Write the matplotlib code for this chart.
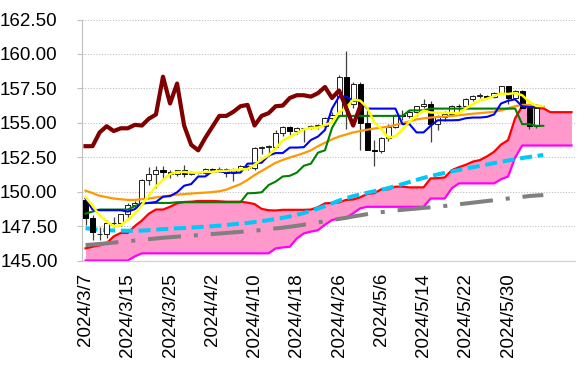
import matplotlib
matplotlib.use("Agg")
import matplotlib.pyplot as plt
import numpy as np

# ---------------- data ----------------
tick_labels = ['2024/3/7', '2024/3/15', '2024/3/25', '2024/4/2', '2024/4/10', '2024/4/18',
               '2024/4/26', '2024/5/6', '2024/5/14', '2024/5/22', '2024/5/30']

opens = [149.40, 148.05, 146.90, 146.95, 147.70, 147.75, 148.35, 149.05, 149.15, 150.85,
         151.25, 151.60, 151.45, 151.30, 151.55, 151.30, 151.35, 151.35, 151.65, 151.55,
         151.65, 151.35, 151.65, 151.85, 151.75, 153.15, 153.25, 153.25, 154.25, 154.70,
         154.40, 154.60, 154.65, 154.80, 154.80, 155.35, 155.60, 158.30, 156.35, 157.80,
         155.00, 153.05, 152.95, 153.90, 154.70, 155.55, 155.50, 155.75, 156.20, 156.40,
         154.90, 155.40, 155.65, 156.25, 156.20, 156.75, 156.95, 156.95, 156.90, 157.15,
         157.65, 156.80, 157.30, 156.10, 154.80]
highs = [149.50, 148.30, 147.40, 147.95, 148.15, 148.40, 149.15, 149.30, 150.95, 151.80,
         151.85, 151.85, 151.55, 151.60, 151.95, 151.50, 151.45, 151.75, 151.75, 151.80,
         151.70, 151.75, 151.95, 151.95, 153.25, 153.30, 153.40, 154.45, 154.80, 154.75,
         154.70, 154.65, 154.85, 154.90, 155.40, 155.75, 158.45, 160.20, 157.95, 157.95,
         155.95, 153.75, 154.00, 154.90, 155.65, 155.95, 155.95, 156.25, 156.75, 156.55,
         155.60, 155.85, 156.30, 156.40, 156.80, 157.05, 157.15, 157.00, 157.25, 157.70,
         157.70, 157.35, 157.35, 156.20, 156.40]
lows = [147.60, 146.50, 146.50, 146.65, 147.40, 147.50, 147.95, 148.90, 149.15, 150.50,
        150.25, 151.00, 151.00, 151.15, 151.05, 151.20, 151.25, 151.25, 151.40, 151.45,
        151.05, 150.80, 151.60, 151.60, 151.60, 152.75, 152.60, 153.20, 154.05, 154.10,
        154.20, 153.60, 154.55, 154.55, 154.70, 155.10, 155.40, 154.55, 156.05, 153.00,
        153.05, 151.85, 152.80, 153.70, 154.60, 155.20, 155.35, 155.50, 156.05, 153.60,
        154.50, 155.10, 155.55, 155.80, 156.10, 156.55, 156.80, 156.70, 156.80, 157.10,
        156.40, 156.70, 156.10, 154.55, 154.60]
closes = [148.05, 147.05, 146.95, 147.70, 147.75, 148.35, 149.05, 149.15, 150.85, 151.25,
          151.60, 151.40, 151.30, 151.55, 151.30, 151.35, 151.35, 151.65, 151.55, 151.65,
          151.35, 151.65, 151.85, 151.75, 153.15, 153.25, 153.25, 154.25, 154.70, 154.40,
          154.60, 154.65, 154.80, 154.80, 155.35, 155.60, 158.30, 156.35, 157.80, 155.00,
          153.05, 152.95, 153.90, 154.70, 155.55, 155.50, 155.75, 156.20, 156.40, 154.90,
          155.40, 155.65, 156.25, 156.20, 156.75, 156.95, 156.95, 156.90, 157.15, 157.65,
          156.80, 157.30, 156.10, 154.80, 156.10]

tenkan = [149.5, 148.7, 148.65, 148.65, 148.65, 148.65, 148.55, 148.73, 149.15, 149.18,
          149.25, 149.63, 149.68, 149.95, 150.43, 150.55, 151.10, 151.10, 151.48, 151.48,
          151.38, 151.38, 151.38, 152.03, 152.05, 152.10, 152.63, 152.80, 152.80, 153.20,
          153.20, 153.23, 153.75, 154.00, 154.48, 156.03, 156.90, 156.90, 156.60, 156.60,
          156.03, 156.03, 156.03, 156.03, 156.03, 154.90, 154.90, 154.30, 154.30, 154.78,
          155.18, 155.18, 155.18, 155.20, 155.33, 155.38, 155.38, 155.43, 155.60, 156.40,
          156.60, 156.70, 156.20, 156.15, 156.15, 156.15]
kijun = [148.4, 148.55, 148.7, 148.7, 148.7, 148.7, 148.7, 148.95, 149.15, 149.18,
         149.18, 149.18, 149.18, 149.23, 149.23, 149.23, 149.23, 149.23, 149.23, 149.23,
         149.23, 149.23, 149.23, 149.88, 149.90, 149.95, 150.48, 150.73, 151.10, 151.15,
         151.38, 151.88, 152.03, 152.83, 153.00, 154.63, 155.50, 155.50, 155.50, 155.50,
         155.50, 155.50, 155.50, 155.50, 155.50, 155.50, 155.90, 155.90, 155.90, 156.03,
         156.03, 156.03, 156.03, 156.03, 156.03, 156.03, 156.03, 156.03, 156.03, 156.03,
         156.03, 156.03, 154.90, 154.90, 154.78, 154.78]
senkou_a = [145.88, 146.0, 146.1, 146.25, 146.75, 147.0, 147.0, 147.5, 147.9, 148.4,
            148.7, 148.7, 148.9, 149.15, 149.25, 149.27, 149.32, 149.32, 149.32, 149.3,
            149.27, 149.27, 149.27, 149.2, 149.1, 148.75, 148.65, 148.63, 148.68, 148.68,
            148.68, 148.68, 148.7, 148.87, 149.15, 149.18, 149.22, 149.4, 149.43, 149.59,
            149.83, 149.89, 150.17, 150.17, 150.36, 150.36, 150.31, 150.31, 150.31, 150.96,
            150.98, 151.03, 151.56, 151.77, 151.95, 152.18, 152.29, 152.56, 152.89, 153.42,
            153.74, 155.33, 156.2, 156.2, 156.05, 156.05, 155.77, 155.77, 155.77, 155.77]
senkou_b = [145.0, 145.0, 145.0, 145.0, 145.0, 145.0, 145.0, 145.3, 145.52, 145.52,
            145.52, 145.52, 145.52, 145.52, 145.52, 145.52, 145.52, 145.52, 145.52, 145.52,
            145.52, 145.52, 145.52, 145.52, 145.52, 145.52, 145.52, 145.88, 145.95, 146.0,
            146.6, 146.97, 147.1, 147.2, 147.6, 147.94, 148.06, 148.1, 148.43, 148.79,
            148.9, 148.9, 148.9, 148.9, 148.9, 148.9, 148.9, 148.9, 148.9, 149.5,
            149.5, 149.5, 150.24, 150.6, 150.6, 150.6, 150.6, 150.6, 150.6, 150.9,
            151.1, 152.48, 153.35, 153.35, 153.35, 153.35, 153.35, 153.35, 153.35, 153.35]
chikou = [153.3, 153.3, 154.3, 154.75, 154.4, 154.6, 154.6, 154.85, 154.8, 155.3,
          155.6, 158.35, 156.4, 157.85, 154.8, 153.4, 153.0, 153.9, 154.7, 155.5,
          155.5, 155.8, 156.2, 156.3, 154.8, 155.5, 155.7, 156.2, 156.25, 156.8,
          157.0, 157.0, 156.9, 157.15, 157.6, 156.8, 157.35, 156.1, 154.8, 156.2]
ma5 = [149.6, 148.98, 148.27, 147.83, 147.5, 147.56, 147.96, 148.4, 149.03, 149.73,
       150.38, 150.85, 151.28, 151.42, 151.43, 151.38, 151.37, 151.44, 151.44, 151.51,
       151.51, 151.57, 151.61, 151.65, 151.95, 152.33, 152.65, 153.13, 153.72, 153.97,
       154.24, 154.52, 154.63, 154.65, 154.84, 155.04, 155.77, 156.08, 156.68, 156.61,
       156.1, 155.03, 154.54, 153.92, 154.03, 154.52, 155.08, 155.54, 155.88, 155.75,
       155.73, 155.71, 155.72, 155.68, 156.05, 156.36, 156.62, 156.75, 156.94, 157.12,
       157.09, 157.16, 157.0, 156.53, 156.22, 156.2]
ma25 = [150.07, 149.9, 149.7, 149.6, 149.5, 149.45, 149.4, 149.4, 149.45, 149.5,
        149.58, 149.65, 149.72, 149.78, 149.82, 149.86, 149.9, 149.93, 149.97, 150.03,
        150.15, 150.35, 150.55, 150.85, 151.2, 151.5, 151.8, 152.1, 152.3, 152.48,
        152.63, 152.8, 153.0, 153.3, 153.55, 153.8, 154.0, 154.15, 154.3, 154.4,
        154.5, 154.58, 154.65, 154.72, 154.85, 154.98, 155.1, 155.25, 155.32, 155.38,
        155.42, 155.45, 155.5, 155.55, 155.6, 155.66, 155.7, 155.75, 155.8, 155.9,
        156.05, 156.2, 156.3, 156.3, 156.25, 156.2]
ma75 = [147.35, 147.28, 147.22, 147.2, 147.18, 147.17, 147.16, 147.16, 147.17, 147.2,
        147.24, 147.28, 147.31, 147.34, 147.36, 147.39, 147.42, 147.45, 147.49, 147.53,
        147.58, 147.63, 147.68, 147.73, 147.79, 147.86, 147.93, 148.01, 148.1, 148.2,
        148.32, 148.45, 148.6, 148.77, 148.95, 149.15, 149.35, 149.52, 149.67, 149.8,
        149.92, 150.03, 150.14, 150.26, 150.4, 150.55, 150.7, 150.85, 151.0, 151.13,
        151.25, 151.36, 151.47, 151.57, 151.67, 151.77, 151.87, 151.97, 152.07, 152.17,
        152.26, 152.35, 152.44, 152.52, 152.59, 152.66]
ma200 = [146.12, 146.16, 146.2, 146.25, 146.3, 146.35, 146.4, 146.45, 146.5, 146.55,
         146.6, 146.65, 146.69, 146.73, 146.77, 146.8, 146.84, 146.88, 146.92, 146.96,
         147.0, 147.04, 147.08, 147.12, 147.16, 147.22, 147.28, 147.33, 147.38, 147.45,
         147.52, 147.6, 147.68, 147.77, 147.85, 147.94, 148.02, 148.1, 148.2, 148.28,
         148.37, 148.45, 148.51, 148.57, 148.63, 148.68, 148.73, 148.77, 148.82, 148.86,
         148.9, 148.96, 149.02, 149.08, 149.14, 149.2, 149.26, 149.32, 149.38, 149.44,
         149.5, 149.56, 149.62, 149.68, 149.72, 149.75]

# ---------------- figure ----------------
plt.rcParams['font.family'] = ['Liberation Sans', 'DejaVu Sans']
W, H = 585, 384
fig = plt.figure(figsize=(W / 100, H / 100), dpi=100)
ax = fig.add_axes([82 / W, 1 - 260.5 / H, (575 - 82) / W, (260.5 - 19.5) / H])

n_cat = len(senkou_a)
xa = np.arange(len(senkou_a))
xb = np.arange(len(senkou_b))

# cloud
ax.fill_between(xa, senkou_a, senkou_b, color='#FF99CC', lw=0, zorder=1)
ax.plot(xa, senkou_a, color='#FF0000', lw=1.6, zorder=2)
ax.plot(xb, senkou_b, color='#FF00FF', lw=1.6, zorder=2)

# long moving averages
ax.plot(np.arange(len(ma200)), ma200, color='#808080', lw=2.9, zorder=3,
        dashes=(8.2, 3.2, 1.0, 3.2), dash_capstyle='butt')
ax.plot(np.arange(len(ma75)), ma75, color='#00C8F8', lw=2.9, zorder=3,
        dashes=(3.0, 1.4), dash_capstyle='butt')

# candles
o = np.array(opens); c = np.array(closes); h = np.array(highs); l = np.array(lows)
xc = np.arange(len(opens))
ax.vlines(xc, l, h, color='#404040', lw=0.9, zorder=4)
up = c >= o
bottoms = np.minimum(o, c)
heights = np.maximum(np.abs(c - o), 0.04)
ax.bar(xc[up], heights[up], bottom=bottoms[up], width=0.72, color='white',
       edgecolor='#202020', linewidth=0.7, zorder=5)
ax.bar(xc[~up], heights[~up], bottom=bottoms[~up], width=0.72, color='black',
       edgecolor='black', linewidth=0.7, zorder=5)

# other lines
ax.plot(np.arange(len(ma25)), ma25, color='#FF9900', lw=1.6, zorder=6)
ax.plot(np.arange(len(kijun)), kijun, color='#008000', lw=1.5, zorder=6)
ax.plot(np.arange(len(tenkan)), tenkan, color='#0000FF', lw=1.5, zorder=6)
ax.plot(np.arange(len(ma5)), ma5, color='#FFFF00', lw=1.8, zorder=7)
ax.plot(np.arange(len(chikou)), chikou, color='#800000', lw=3.0, zorder=8,
        solid_joinstyle='round')

# axes styling
ax.set_xlim(-0.5, n_cat - 0.5)
ax.set_ylim(145, 162.5)
yt = np.arange(145, 162.51, 2.5)
ax.set_yticks(yt)
ax.set_yticklabels([f'{v:.2f}' for v in yt])
ax.set_xticks(np.arange(0, 6 * len(tick_labels), 6))
ax.set_xticklabels(tick_labels, rotation=90)
ax.grid(axis='y', color='#BFBFBF', linestyle=(0, (1, 1.5)), lw=0.8)
ax.set_axisbelow(True)
for s in ['top', 'right']:
    ax.spines[s].set_visible(False)
ax.spines['left'].set_color('#BFBFBF')
ax.spines['bottom'].set_color('#D0D0D0')
ax.tick_params(axis='y', length=3.5, color='#BFBFBF', pad=14, labelsize=13.5, labelcolor='#000000')
ax.tick_params(axis='x', length=0, pad=9, labelsize=13.5, labelcolor='#000000')

fig.savefig('out.png', dpi=100)
